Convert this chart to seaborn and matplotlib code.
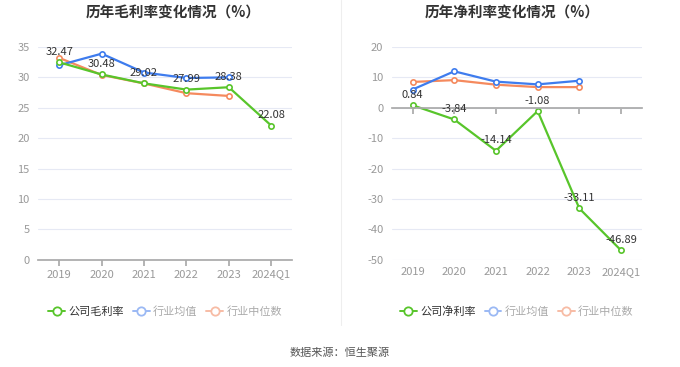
import numpy as np
import pandas as pd
import matplotlib
matplotlib.use('Agg')
import matplotlib.pyplot as plt
from matplotlib.lines import Line2D
import seaborn as sns

### data

years = ['2019', '2020', '2021', '2022', '2023', '2024Q1']

gross_company = [32.47, 30.48, 29.02, 27.99, 28.38, 22.08]
gross_ind_avg = [32.0, 33.9, 30.8, 29.9, 30.0, np.nan]
gross_ind_med = [33.2, 30.4, 29.0, 27.4, 26.95, np.nan]

net_company = [0.84, -3.84, -14.14, -1.08, -33.11, -46.89]
net_ind_avg = [6.0, 12.0, 8.6, 7.7, 8.9, np.nan]
net_ind_med = [8.5, 9.1, 7.6, 6.8, 6.8, np.nan]

left_names = ['公司毛利率', '行业均值', '行业中位数']
right_names = ['公司净利率', '行业均值', '行业中位数']

sns.set_theme(style='white')
plt.rcParams['font.family'] = ['Noto Sans CJK SC', 'DejaVu Sans']
plt.rcParams['axes.unicode_minus'] = False

GREEN = '#58C52B'
BLUE = '#3E7CEE'
ORANGE = '#F58A5E'
LIGHT = {GREEN: GREEN, BLUE: '#9BB9F4', ORANGE: '#F7BCA5'}
GRID = '#E6E9F4'
TICK = '#999999'


def draw(ax, company, avg, med, names, ylim, step, zero_axis):
    x = np.arange(len(years))
    df = pd.DataFrame({'x': np.tile(x, 3),
                       'v': company + avg + med,
                       's': np.repeat(names, len(years))})
    palette = {names[0]: GREEN, names[1]: BLUE, names[2]: ORANGE}
    # company drawn last so it sits on top
    for name in [names[2], names[1], names[0]]:
        sns.lineplot(data=df[df.s == name], x='x', y='v', ax=ax, color=palette[name],
                     marker='o', markersize=3.8, markerfacecolor='white',
                     markeredgecolor=palette[name], markeredgewidth=1.2,
                     linewidth=1.6, legend=False)
    for xi, v in zip(x, company):
        ax.annotate(f'{v:.2f}', (xi, v), xytext=(0, 4), textcoords='offset points',
                    ha='center', va='bottom', fontsize=8, color='#333333')

    ax.set_xlim(-0.5, len(years) - 0.5)
    ax.set_ylim(*ylim)
    ax.set_yticks(np.arange(ylim[0], ylim[1] + 1, step))
    ax.yaxis.grid(True, color=GRID, linewidth=0.8)
    ax.xaxis.grid(False)
    ax.set_xlabel('')
    ax.set_ylabel('')
    for s in ['top', 'right', 'left']:
        ax.spines[s].set_visible(False)
    ax.spines['bottom'].set_color('#AAAAAA')
    ax.tick_params(axis='y', length=0, labelsize=8, labelcolor=TICK, pad=6)

    if zero_axis:
        ax.spines['bottom'].set_position(('data', 0))
        ax.set_xticks(x)
        ax.tick_params(axis='x', bottom=True, length=4, color='#AAAAAA', labelbottom=False)
        sec = ax.secondary_xaxis('bottom')
        sec.set_xticks(x, labels=years)
        sec.tick_params(length=0, labelsize=8, labelcolor=TICK, pad=5)
        sec.spines['bottom'].set_visible(False)
    else:
        ax.set_xticks(x, labels=years)
        ax.tick_params(axis='x', bottom=True, length=4, color='#AAAAAA',
                       labelsize=8, labelcolor=TICK, pad=3)

    handles = []
    for c in [GREEN, BLUE, ORANGE]:
        handles.append(Line2D([], [], color=LIGHT[c], marker='o', markersize=6,
                              markerfacecolor='white', markeredgecolor=LIGHT[c],
                              markeredgewidth=1.3, linewidth=1.4))
    leg = ax.legend(handles, names, loc='upper center', bbox_to_anchor=(0.5, -0.17),
                    ncol=3, frameon=False, fontsize=8, handlelength=1.5,
                    handletextpad=0.3, columnspacing=0.8)
    for t, col in zip(leg.get_texts(), ['#333333', '#AAAAAA', '#AAAAAA']):
        t.set_color(col)


fig = plt.figure(figsize=(6.8, 3.67), dpi=100)
ax1 = fig.add_axes([0.056, 0.292, 0.374, 0.58])
ax2 = fig.add_axes([0.576, 0.292, 0.368, 0.58])

draw(ax1, gross_company, gross_ind_avg, gross_ind_med, left_names, (0, 35), 5, False)
draw(ax2, net_company, net_ind_avg, net_ind_med, right_names, (-50, 20), 10, True)

fig.text(0.255, 0.967, '历年毛利率变化情况（%）', ha='center', va='center',
         fontsize=10.5, fontweight='bold', color='#333333')
fig.text(0.753, 0.967, '历年净利率变化情况（%）', ha='center', va='center',
         fontsize=10.5, fontweight='bold', color='#333333')
fig.text(0.5, 0.04, '数据来源：恒生聚源', ha='center', va='center',
         fontsize=8, color='#555555')
fig.add_artist(Line2D([0.502, 0.502], [0.115, 1.0], transform=fig.transFigure,
                      color='#EEEEEE', linewidth=0.8))

plt.savefig('out.png', dpi=100)
